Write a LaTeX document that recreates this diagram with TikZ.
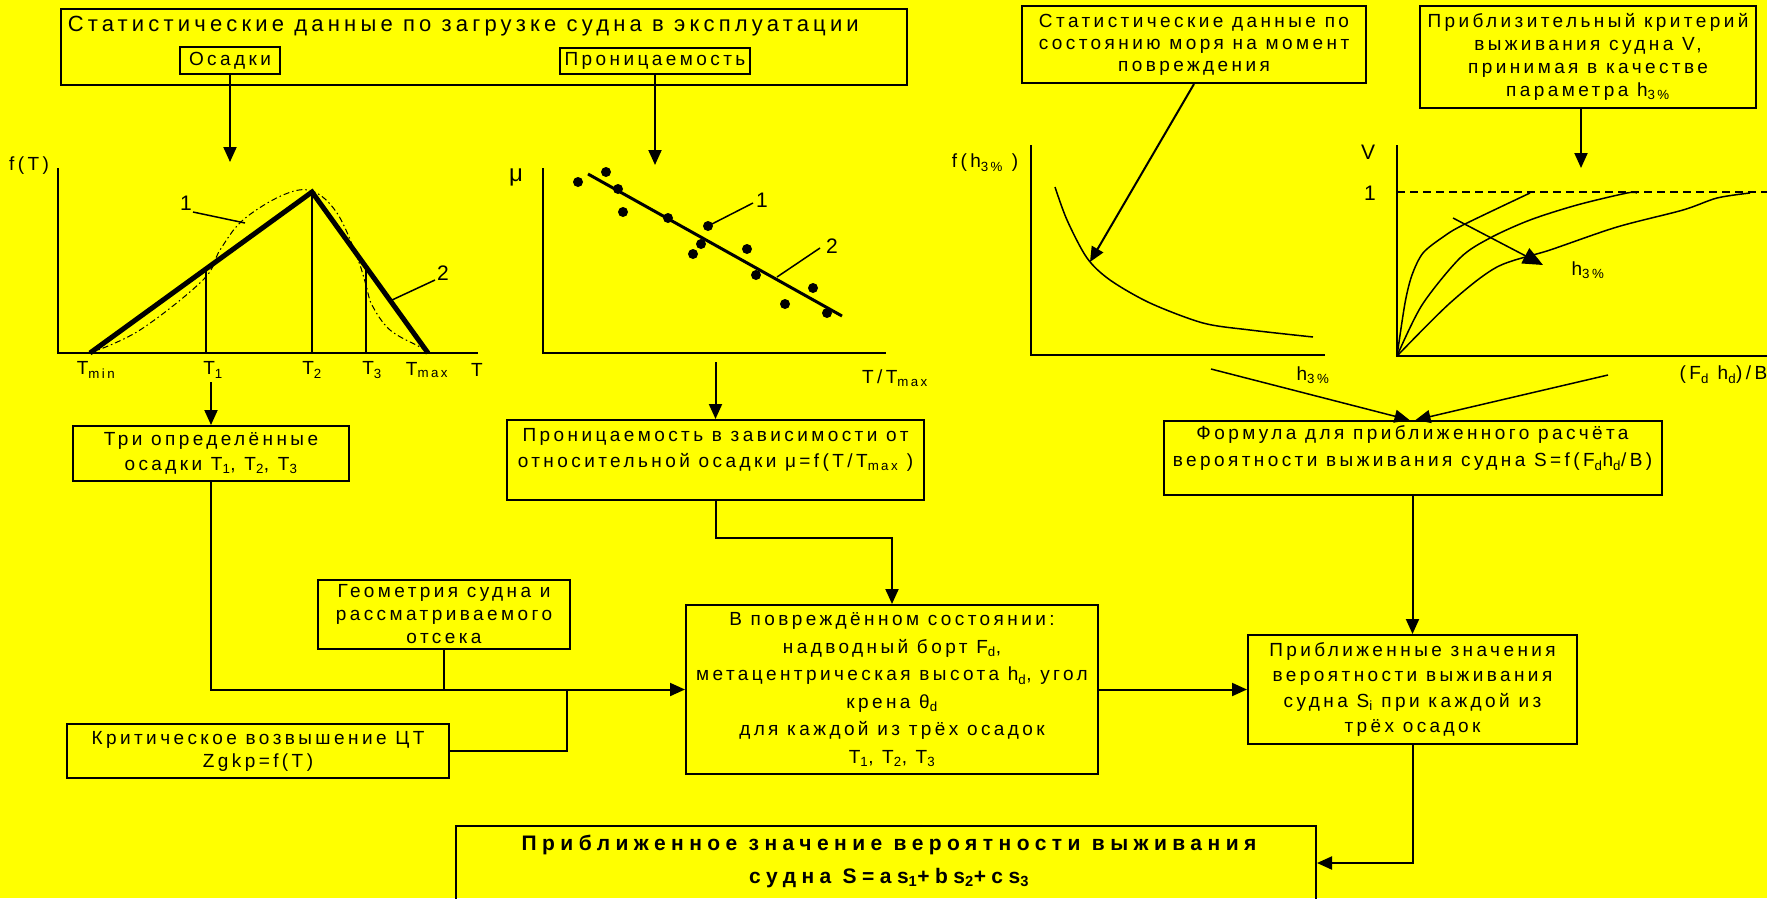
\documentclass[tikz,border=0pt]{standalone}
\usepackage{fontspec}
\setmainfont{Liberation Sans}[LetterSpace=18]
\usetikzlibrary{arrows.meta}
\definecolor{sheet}{RGB}{255,255,0}
\newcommand{\lo}[1]{\textsubscript{#1}}
\tikzset{every picture/.style={line width=2pt}}

\begin{document}
\begin{tikzpicture}[x=1pt,y=1pt,yscale=-1,
	blk/.style={draw,inner sep=0pt,align=center,font=\fontsize{19}{25}\selectfont},
	lbl/.style={inner sep=0.75pt,align=center,font=\fontsize{19}{25}\selectfont},
	num/.style={inner sep=0.75pt,font=\fontsize{21}{24}\selectfont},
	tip/.style={-{Triangle[length=15pt,width=13pt]}},
	bigtip/.style={-{Triangle[length=20pt,width=17pt]}},
	axis/.style={line width=2.5pt},
	lead/.style={line width=1.5pt}]
	\useasboundingbox (0,0) rectangle (1767,898);
	\fill[sheet] (0,0) rectangle (1767,898);

	%Shape: Rectangle [id:load]
	\node[blk, minimum width=846, minimum height=76] (load) at (484,47) {};
	% Text Node
	\node[lbl, anchor=west, font=\fontsize{22}{26}\selectfont\addfontfeature{LetterSpace=19}] (loadtitle) at (66,26) {Статистические данные по загрузке судна в эксплуатации};
	% Text Node
	\node[blk, minimum width=100, minimum height=27] (osadki) at (230,60.5) {Осадки};
	% Text Node
	\node[blk, minimum width=190, minimum height=26] (pron) at (655,61) {Проницаемость};
	% Text Node
	\node[blk, font=\fontsize{19}{22}\selectfont, minimum width=344, minimum height=77] (sea) at (1194,44.5) {Статистические данные по\\состоянию моря на момент\\повреждения};
	% Text Node
	\node[blk, font=\fontsize{19}{23}\selectfont, minimum width=336, minimum height=102] (crit) at (1588,57) {Приблизительный критерий\\выживания судна V,\\принимая в качестве\\параметра h\lo{3\%}};

	\coordinate (osadkitip) at (230,162);
	\coordinate (prontip) at (655,165);
	\coordinate (seatip) at (1090,262);
	\coordinate (crittip) at (1581,168);
	\draw[tip] (osadki.south) -- (osadkitip);
	\draw[tip] (pron.south) -- (prontip);
	\draw[tip] (sea.south) -- (seatip);
	\draw[tip] (crit.south -| crittip) -- (crittip);

	%Shape: Axis 2D [draught distribution]
	\draw[axis] (58,168) -- (58,353) -- (478,353);
	%Straight Lines
	\draw[line width=5pt] (90,353) -- (312,192) -- (428,353);
	\draw (206,353) -- (206,270) (312,353) -- (312,192) (366,353) -- (366,265);
	%Curve Lines
	\draw[line width=1pt, dash pattern={on 6pt off 3pt on 1.5pt off 3pt}] plot[smooth, tension=0.6] coordinates {(90,353) (140,330) (203,280) (220,250) (243,220) (283,195) (312,191) (337,213) (357,257) (366,285) (372,305) (390,330) (420,347) (430,353)};
	\draw[lead] (193,212) -- (245,223) (435,280) -- (392,300);
	% Text Node
	\node[lbl] (fT) at (29,166) {f(T)};
	\node[num] (one) at (186,203) {1};
	\node[num] (two) at (443,273) {2};
	\node[lbl] (tmin) at (96,370) {T\lo{min}};
	\node[lbl] (tone) at (213,370) {T\lo{1}};
	\node[lbl] (ttwo) at (312,370) {T\lo{2}};
	\node[lbl] (tthree) at (372,370) {T\lo{3}};
	\node[lbl] (tmax) at (427,370) {T\lo{max}};
	\node[lbl] (tax) at (477,370) {T};

	%Shape: Axis 2D [permeability]
	\draw[axis] (543,168) -- (543,353) -- (886,353);
	%Straight Lines
	\draw[line width=3pt] (588,174) -- (842,316);
	\foreach \x/\y in {578/182, 606/172, 618/189, 623/212, 668/218, 708/226, 701/244, 693/254, 747/249, 756/275, 813/288, 785/304, 827/313}
		\fill (\x,\y) circle (5);
	\draw[lead] (753,203) -- (710,225) (820,248) -- (777,277);
	% Text Node
	\node[lbl, font=\fontsize{24}{26}\selectfont] (mu) at (516,177) {μ};
	\node[num] (mone) at (762,200) {1};
	\node[num] (mtwo) at (832,246) {2};
	\node[lbl] (tt) at (895,378) {T/T\lo{max}};

	%Shape: Axis 2D [sea state]
	\draw[axis] (1031,145) -- (1031,355) -- (1325,355);
	%Curve Lines
	\draw[lead] plot[smooth] coordinates {(1055,187) (1067,220) (1087,258) (1110,280) (1150,303) (1203,323) (1250,330) (1313,337)};
	% Text Node
	\node[lbl] (fh) at (985,163) {f(h\lo{3\%} )};
	\node[lbl] (hax) at (1313,375) {h\lo{3\%}};

	%Shape: Axis 2D [survival criterion]
	\draw[axis] (1397,145) -- (1397,356) -- (1767,356);
	\draw[lead, dash pattern={on 8pt off 5pt}] (1397,192) -- (1767,192);
	%Curve Lines
	\draw[lead] plot[smooth, tension=0.5] coordinates {(1397,356) (1405,303) (1412,275) (1423,253) (1443,237) (1463,225) (1530,193)};
	\draw[lead] plot[smooth, tension=0.5] coordinates {(1397,356) (1422,305) (1460,258) (1490,238) (1530,220) (1577,205) (1627,193) (1637,193)};
	\draw[lead] plot[smooth, tension=0.5] coordinates {(1397,356) (1450,303) (1497,267) (1550,250) (1617,227) (1683,210) (1717,198) (1750,193)};
	\coordinate (hfrom) at (1453,218);
	\coordinate (hto) at (1543,265);
	\draw[lead, bigtip] (hfrom) -- (hto);
	% Text Node
	\node[lbl, font=\fontsize{21}{24}\selectfont] (vax) at (1368,152) {V};
	\node[num] (vone) at (1370,193) {1};
	\node[lbl] (hpar) at (1588,270) {h\lo{3\%}};
	\node[lbl, anchor=east] (fhb) at (1769,375) {(F\lo{d} h\lo{d})/B};

	%Shape: Rectangle [formula]
	\coordinate (hin) at (1211,369);
	\coordinate (fin) at (1608,375);
	\node[blk, minimum width=498, minimum height=74] (formula) at (1412.5,458) {};
	\node[lbl, font=\fontsize{19}{27}\selectfont] (formulatext) at (1412.5,448) {Формула для приближенного расчёта\\вероятности выживания судна S=f(F\lo{d}h\lo{d}/B)};
	\draw[lead, tip] (hin) -- ([xshift=-3]formula.north);
	\draw[lead, tip] (fin) -- ([xshift=3]formula.north);

	%Shape: Rectangle [draughts]
	\coordinate (t1out) at (211,382);
	\node[blk, minimum width=276, minimum height=55] (tri) at (211,453.5) {Три определённые\\осадки T\lo{1}, T\lo{2}, T\lo{3}};
	\draw[tip] (t1out) -- (tri.north);

	%Shape: Rectangle [permeability function]
	\coordinate (muout) at (715.5,362);
	\node[blk, minimum width=417, minimum height=80] (pron2) at (715.5,460) {};
	\node[lbl, font=\fontsize{19}{26}\selectfont] (pron2text) at (715.5,450) {Проницаемость в зависимости от\\относительной осадки μ=f(T/T\lo{max} )};
	\draw[tip] (muout) -- (pron2.north);

	%Shape: Rectangle [geometry]
	\node[blk, font=\fontsize{19}{23}\selectfont, minimum width=252, minimum height=69] (geo) at (444,614.5) {Геометрия судна и\\рассматриваемого\\отсека};
	%Shape: Rectangle [critical KG]
	\node[blk, font=\fontsize{19}{23}\selectfont, minimum width=382, minimum height=54] (zg) at (258,751) {Критическое возвышение ЦТ\\Zgkp=f(T)};
	%Shape: Rectangle [damaged state]
	\node[blk, font=\fontsize{19}{27.5}\selectfont, minimum width=412, minimum height=169] (dmg) at (892,689.5) {В повреждённом состоянии:\\надводный борт F\lo{d},\\метацентрическая высота h\lo{d}, угол\\крена θ\lo{d}\\для каждой из трёх осадок\\T\lo{1}, T\lo{2}, T\lo{3}};
	%Shape: Rectangle [approximate values]
	\node[blk, font=\fontsize{19}{25.5}\selectfont, minimum width=329, minimum height=109] (approx) at (1412.5,689.5) {Приближенные значения\\вероятности выживания\\судна S\lo{i} при каждой из\\трёх осадок};
	%Shape: Rectangle [result]
	\node[blk, minimum width=860, minimum height=84] (final) at (886,868) {};
	\node[lbl, font=\bfseries\fontsize{21}{33}\selectfont\addfontfeature{LetterSpace=26}] (finaltext) at (889,861) {Приближенное значение вероятности выживания\\судна S=as\lo{1}+bs\lo{2}+cs\lo{3}};

	%Straight Lines
	\coordinate (zgjoin) at (567,0);
	\draw[tip] (tri.south) |- (dmg.west);
	\draw (geo.south) -- (geo.south |- dmg.west);
	\draw (zg.east) -| (zgjoin |- dmg.west);
	\draw[tip] (pron2.south) -- (pron2.south |- 0,538) -| (dmg.north);
	\draw[tip] (formula.south) -- (approx.north);
	\draw[tip] (dmg.east) -- (approx.west);
	\draw[tip] (approx.south) |- ([yshift=-5]final.east);

\end{tikzpicture}
\end{document}
